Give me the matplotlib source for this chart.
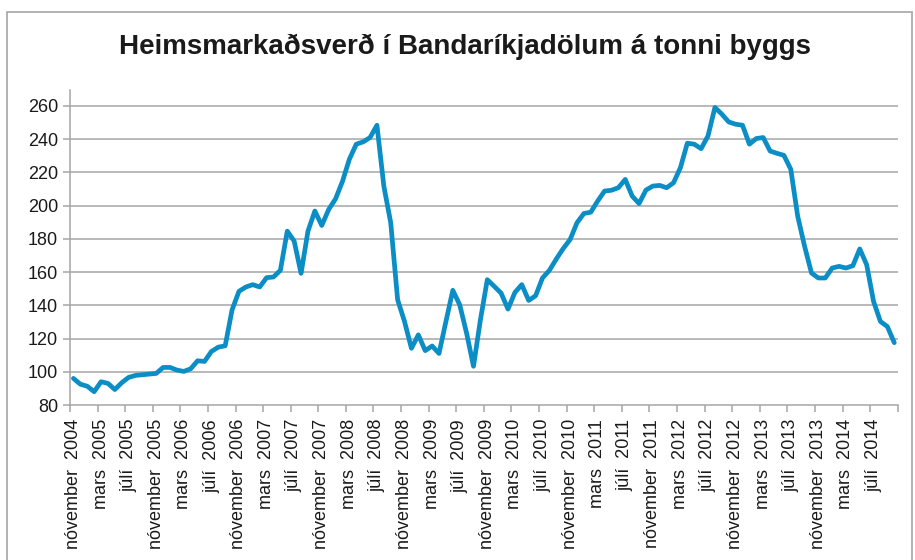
"""
heimsmarkaðsverð á byggi, mánaðarlegt, nóv 2004 - okt 2014
"""

import matplotlib.pyplot as plt
from matplotlib.patches import Rectangle

plt.rcParams['font.family'] = ['Liberation Sans', 'DejaVu Sans']

# USD per tonn, one value per month starting nóvember 2004
price = [
    96, 92.5, 91.3, 88, 94, 93, 89.3, 93.4, 96.6, 97.8,
    98.2, 98.6, 99, 102.6, 102.6, 101, 100.2, 101.8, 106.6, 106.2,
    112.2, 114.8, 115.6, 137.3, 148.4, 151, 152.4, 151, 156.6, 157,
    161, 184.6, 178.6, 159.2, 184.6, 196.7, 188, 197.6, 204, 214.5,
    227.8, 236.9, 238.3, 240.9, 248.3, 211.7, 189.6, 143.3, 130.2, 114.1,
    122.2, 112.7, 115.5, 111, 130.2, 149, 140.3, 123.2, 103.3, 131.2,
    155.4, 151.4, 147.3, 137.7, 147.7, 152.4, 142.9, 145.7, 156.4, 161,
    167.8, 174.1, 179.5, 189.6, 195.2, 196, 202.7, 208.7, 209.2, 210.7,
    215.7, 205.7, 201.2, 209.3, 211.7, 212.1, 210.7, 213.7, 222.8, 237.5,
    236.9, 234.2, 241.9, 259, 255, 250.3, 248.9, 248.3, 236.9, 240.3,
    240.9, 232.8, 231.4, 230.2, 221.8, 193.6, 175.5, 159.4, 156.4, 156.4,
    162.4, 163.4, 162.4, 163.8, 173.9, 164.4, 142.3, 130.2, 127.2, 117.5,
]

month_names = ['nóvember', 'mars', 'júlí']
first_year = 2004
y_ticks = [80, 100, 120, 140, 160, 180, 200, 220, 240, 260]

title = 'Heimsmarkaðsverð í Bandaríkjadölum á tonni byggs'

# labels every fourth month
tick_labels = []
for k in range(0, len(price), 4):
    month = month_names[(k // 4) % 3]
    year = first_year + (k + 10) // 12
    tick_labels.append(month + '  ' + str(year))

grid_col = '#A6A6A6'
line_col = '#0B8DC5'
text_col = '#1A1A1A'

fig = plt.figure(figsize=(9.15, 5.6), dpi=100)
ax = fig.add_axes([70 / 915, 1 - 405 / 560, 827.7 / 915, 315 / 560])

# outer chart border
fig.patches.append(Rectangle((7 / 915, -0.05), 905 / 915, 1.05 - 12 / 560,
                             transform=fig.transFigure, fill=False,
                             edgecolor=grid_col, linewidth=1.2))

ax.plot(range(len(price)), price, color=line_col, linewidth=3.4,
        solid_joinstyle='round', solid_capstyle='round', zorder=3)

ax.set_xlim(-0.5, len(price) - 0.5)
ax.set_ylim(80, 269.5)

ax.set_yticks(y_ticks)
ax.set_yticklabels([str(v) for v in y_ticks])
for v in y_ticks[1:]:
    ax.axhline(v, color=grid_col, linewidth=1.1, zorder=1)

# tick marks sit between categories, labels on the category
ax.set_xticks([x - 0.5 for x in range(0, len(price) + 1, 4)])
ax.set_xticklabels([])
ax.set_xticks(list(range(0, len(price), 4)), minor=True)
ax.set_xticklabels(tick_labels, minor=True, rotation=90)
ax.tick_params(axis='x', which='minor', length=0, pad=10)
ax.tick_params(axis='both', which='major', length=5, width=1.1,
               color=grid_col)
ax.tick_params(axis='both', which='both', labelsize=13, labelcolor=text_col)

for side in ['top', 'right']:
    ax.spines[side].set_visible(False)
for side in ['left', 'bottom']:
    ax.spines[side].set_color(grid_col)
    ax.spines[side].set_linewidth(1.1)

fig.text(465 / 915, 1 - 47 / 560, title, ha='center', va='center',
         fontsize=20, fontweight='bold', color=text_col)

fig.savefig('out.png', dpi=100)
